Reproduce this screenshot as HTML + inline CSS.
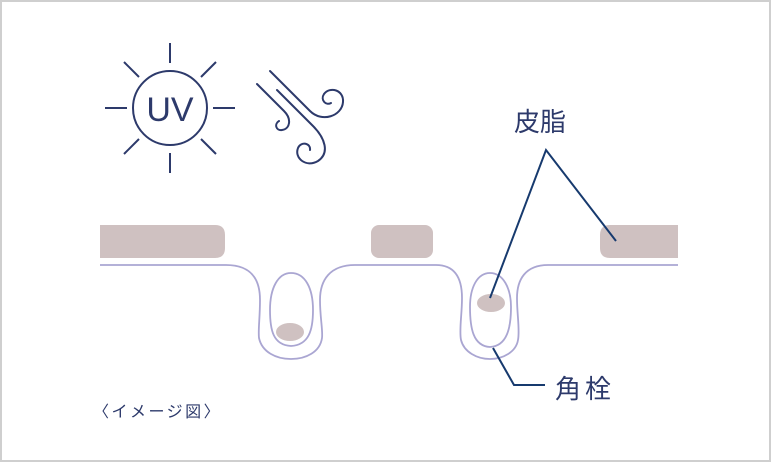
<!DOCTYPE html>
<html><head><meta charset="utf-8"><style>
html,body{margin:0;padding:0;background:#fff}
svg{display:block}
text{font-family:"Liberation Sans","Noto Sans CJK JP",sans-serif}
</style></head><body>
<svg width="771" height="462" viewBox="0 0 771 462" xmlns="http://www.w3.org/2000/svg">
<rect x="1" y="1" width="769" height="460" fill="#fff" stroke="#cfcfcf" stroke-width="2"/>
<g stroke="#2d3a6b" stroke-width="2" fill="none">
<circle cx="170" cy="108" r="37"/>
<line x1="170" y1="43" x2="170" y2="63"/>
<line x1="170" y1="153" x2="170" y2="173"/>
<line x1="105" y1="108" x2="127" y2="108"/>
<line x1="213" y1="108" x2="235" y2="108"/>
<line x1="124" y1="62" x2="139" y2="77"/>
<line x1="201" y1="139" x2="216" y2="154"/>
<line x1="216" y1="62" x2="201" y2="77"/>
<line x1="139" y1="139" x2="124" y2="154"/>
</g>
<text x="170" y="121" font-size="34" fill="#2d3a6b" text-anchor="middle">UV</text>
<g stroke="#2d3a6b" stroke-width="2" fill="none" stroke-linecap="round">
<path d="M257,84 L284,111 C292,119 290,129 282,130 C276,131 274,124 279,121"/>
<path d="M270,71 L310,111 C322,123 342,116 343,102 C344,90 330,86 324,94 C320,100 326,106 331,103"/>
<path d="M277,90 L313,126 C325,138 330,153 318,161 C306,168 294,158 298,148 C301,141 311,143 310,150"/>
</g>
<g fill="#cfc1c1">
<path d="M100,225 H215 Q225,225 225,235 V248 Q225,258 215,258 H100 Z"/>
<rect x="371" y="225" width="62" height="33" rx="8"/>
<path d="M678,225 H610 Q600,225 600,235 V248 Q600,258 610,258 H678 Z"/>
<ellipse cx="290" cy="332" rx="14" ry="9"/>
<ellipse cx="491" cy="303" rx="14" ry="9"/>
</g>
<g stroke="#aaa6d2" stroke-width="1.8" fill="none">
<path d="M100,265 H226 C252,265 260,280 260,300 C260,318 258,330 259,338 C262,352 276,359 291,359 C306,359 320,352 322,338 C323,330 320,318 320,300 C320,280 330,265 355,265 H436 C456,265 462,280 462,298 C462,315 459,330 461,340 C464,352 477,359 490,359 C503,359 516,352 518,340 C520,330 517,315 517,298 C517,280 525,265 548,265 H678"/>
<path d="M291,273 C278,273 270,288 270,310 C270,330 273,345 291,346 C309,345 313,330 313,310 C313,288 305,273 291,273 Z"/>
<path d="M490,273 C477,273 470,288 470,307 C470,328 473,346 490,347 C507,346 511,328 511,307 C511,288 503,273 490,273 Z"/>
</g>
<g stroke="#173a6e" stroke-width="2" fill="none">
<path d="M490,298 L546,150 L616,241"/>
<path d="M493,348 L514,385 H545"/>
</g>
<text x="514" y="131" font-size="26" fill="#2d3a6b">皮脂</text>
<text x="555" y="398" font-size="26" fill="#2d3a6b" letter-spacing="4">角栓</text>
<text x="93" y="417" font-size="16" fill="#2d3a6b" letter-spacing="2.5">〈イメージ図〉</text>
</svg>
</body></html>
